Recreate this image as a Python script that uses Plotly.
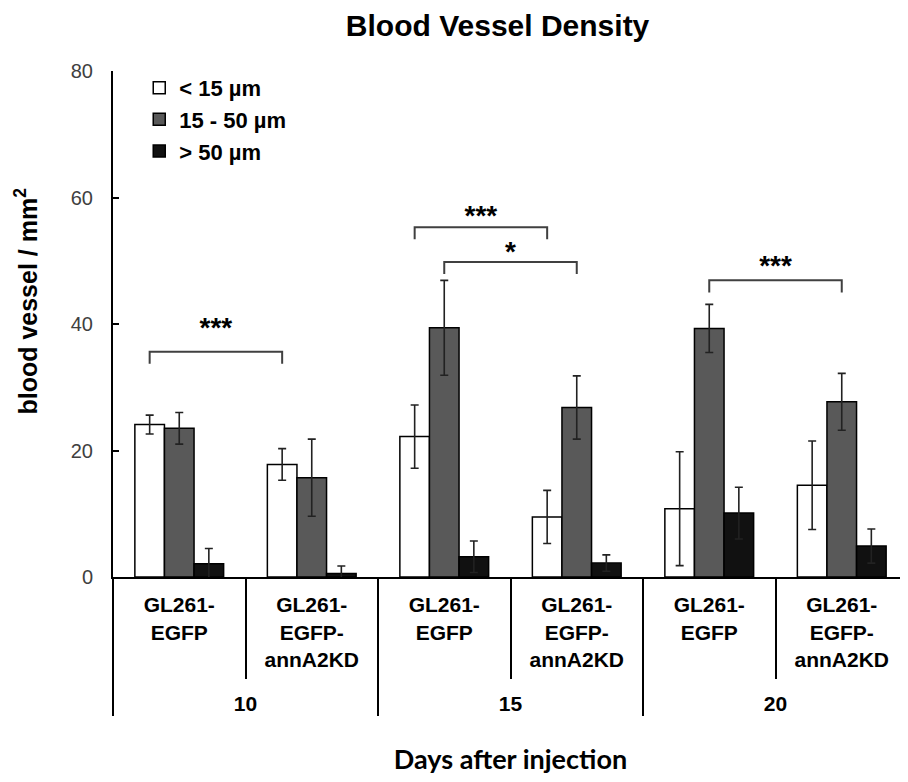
import plotly.graph_objects as go

# ---- data ----
days = ["<br>10", "<br>10", "<br>15", "<br>15", "<br>20", "<br>20"]
cell_lines = ["GL261-<br>EGFP", "GL261-<br>EGFP-<br>annA2KD"] * 3
series_names = ["< 15 µm", "15 - 50 µm", "> 50 µm"]
small_vals = [24.1, 17.8, 22.2, 9.5, 10.8, 14.5]
small_err = [1.5, 2.5, 5.0, 4.2, 9.0, 7.0]
medium_vals = [23.5, 15.7, 39.4, 26.8, 39.3, 27.7]
medium_err = [2.5, 6.1, 7.5, 5.0, 3.8, 4.5]
large_vals = [2.1, 0.55, 3.2, 2.2, 10.1, 4.9]
large_err = [2.4, 1.2, 2.5, 1.3, 4.1, 2.7]
fills = ["#ffffff", "#595959", "#111111"]

# significance brackets: (group a, series a, group b, series b, bracket level, star level, label)
brackets = [
    (0, 0, 1, 0, 35.6, 39.9, "***"),
    (2, 0, 3, 0, 55.3, 57.7, "***"),
    (2, 1, 3, 1, 49.8, 52.0, "*"),
    (4, 1, 5, 1, 46.9, 49.7, "***"),
]

BARGAP = 0.33
n_series = 3
bar_w = (1 - BARGAP) / n_series

def bar_center(group, series):
    return group - (1 - BARGAP) / 2 + bar_w * (series + 0.5)

fig = go.Figure()
for name, vals, errs, col in zip(series_names, [small_vals, medium_vals, large_vals],
                                 [small_err, medium_err, large_err], fills):
    fig.add_trace(go.Bar(
        name=name, x=[days, cell_lines], y=vals,
        marker=dict(color=col, line=dict(color="#000000", width=1.5)),
        error_y=dict(type="data", array=errs, visible=True, color="#222222",
                     thickness=1.6, width=4),
    ))

# brackets drawn on an overlaying linear axis aligned with the categories
for ga, sa, gb, sb, lvl, star, lab in brackets:
    xa, xb = bar_center(ga, sa), bar_center(gb, sb)
    fig.add_trace(go.Scatter(
        x=[xa, xa, xb, xb], y=[lvl - 1.9, lvl, lvl, lvl - 1.9],
        mode="lines", line=dict(color="#404040", width=2),
        xaxis="x2", yaxis="y", showlegend=False, hoverinfo="skip"))
    fig.add_trace(go.Scatter(
        x=[(xa + xb) / 2], y=[star - 0.9], mode="text", text=[lab],
        textfont=dict(family="Liberation Sans", size=28, color="#000000", weight="bold"),
        textposition="middle center",
        xaxis="x2", yaxis="y", showlegend=False, hoverinfo="skip"))

fig.update_layout(
    width=900, height=774,
    margin=dict(l=105, r=0, t=63, b=205),
    paper_bgcolor="white", plot_bgcolor="white",
    barmode="group", bargap=BARGAP, bargroupgap=0,
    font=dict(family="Liberation Sans", color="#000000"),
    title=dict(text="Blood Vessel Density", x=0.544, xanchor="center",
               y=0.978, yanchor="middle",
               font=dict(family="Liberation Sans", size=30, weight="bold", color="#000000")),
    xaxis=dict(
        type="multicategory", showline=True, linecolor="#000000", linewidth=2,
        ticks="outside", tickson="boundaries", ticklen=100, tickwidth=2, tickcolor="#000000",
        showdividers=True, dividercolor="#000000", dividerwidth=2,
        ticklabelstandoff=8,
        tickfont=dict(family="Liberation Sans", size=21, weight="bold", color="#000000"),
        showgrid=False, zeroline=False,
        title=dict(text="Days after injection", standoff=36,
                   font=dict(family="Lato", size=27, weight="bold", color="#000000")),
    ),
    xaxis2=dict(overlaying="x", range=[-0.5, 5.5], visible=False, anchor="y"),
    yaxis=dict(
        range=[0, 80], dtick=20, showline=True, linecolor="#000000", linewidth=2,
        ticks="inside", ticklen=6, tickwidth=2, tickcolor="#000000",
        ticklabelstandoff=14,
        tickfont=dict(family="Liberation Sans", size=20, color="#404040"),
        showgrid=False, zeroline=False,
    ),
    legend=dict(x=0.033, y=1.008, xanchor="left", yanchor="top",
                bgcolor="rgba(0,0,0,0)",
                font=dict(family="Liberation Sans", size=22, weight="bold", color="#000000")),
    annotations=[dict(
        text="blood vessel / mm<sup>2</sup>", textangle=-90,
        xref="paper", yref="paper", x=-0.109, y=0.545,
        xanchor="center", yanchor="middle", showarrow=False,
        font=dict(family="Liberation Sans", size=25, weight="bold", color="#000000"))],
)

fig.write_html("out.html")
